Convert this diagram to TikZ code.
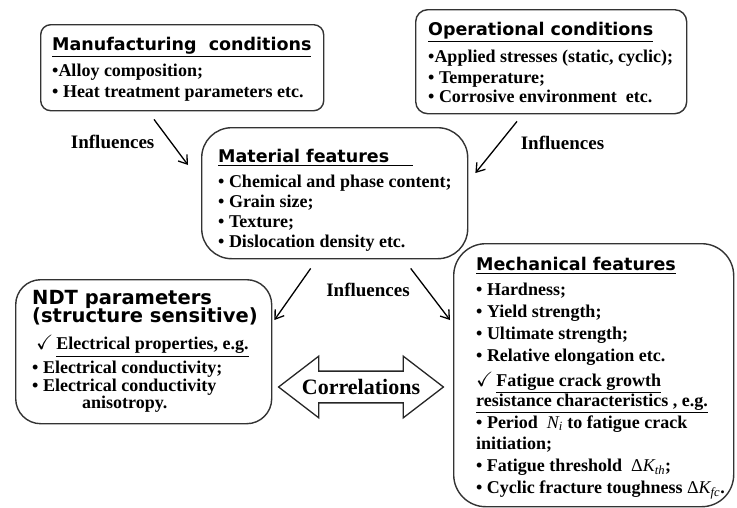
\documentclass[tikz,border=0pt]{standalone}
\usepackage{amssymb}
\usepackage{fontspec}
\setmainfont{Liberation Serif}
\newfontfamily\headfont{DejaVu Sans}
\usetikzlibrary{arrows.meta,shapes.arrows,positioning}

\newcommand{\headtext}[2][17.5]{{\headfont\bfseries\fontsize{#1}{18}\selectfont #2}}
\newcommand{\headline}[1]{\underline{\headtext{#1}}}
\newcommand{\tick}{\scalebox{1.15}{$\checkmark$}}

\begin{document}
\begin{tikzpicture}[x=1pt,y=-1pt,
    frame/.style={draw=black!80,line width=1.4pt,anchor=north west,inner sep=0pt},
    txt/.style={align=left,inner sep=0pt,font=\bfseries\fontsize{18}{21}\selectfont},
    infl/.style={-{Straight Barb[length=8pt,width=11pt]},line width=1.3pt},
    lbl/.style={inner sep=0pt,font=\bfseries\fontsize{19}{19}\selectfont}]
  \useasboundingbox (0,0) rectangle (737,507);

  \node[frame,rounded corners=10pt,minimum width=283pt,minimum height=86pt] (mfg) at (40,24) {};
  \node[txt,below right=12.8pt and 12pt of mfg.north west] (mfgtext) {%
    \headline{Manufacturing\ \ conditions}\\[5pt]
    \textbullet Alloy composition;\\
    \textbullet\ Heat treatment parameters etc.};

  \node[frame,rounded corners=12pt,minimum width=271pt,minimum height=104pt] (oper) at (415,9) {};
  \node[txt,below right=12.8pt and 13pt of oper.north west] (opertext) {%
    \headline{Operational conditions}\\[6pt]
    \textbullet Applied stresses (static, cyclic);\\
    \textbullet\ Temperature;\\[-2pt]
    \textbullet\ Corrosive environment\ \ etc.};

  \node[frame,rounded corners=30pt,minimum width=266pt,minimum height=131pt] (mat) at (201,127) {};
  \node[txt,font=\bfseries\fontsize{18}{20}\selectfont,below right=21.8pt and 17pt of mat.north west] (mattext) {%
    \headline{Material features\hspace{24pt}}\\[5pt]
    \textbullet\ Chemical and phase content;\\
    \textbullet\ Grain size;\\
    \textbullet\ Texture;\\
    \textbullet\ Dislocation density etc.};

  \node[frame,rounded corners=25pt,minimum width=256pt,minimum height=144pt] (ndt) at (15,279) {};
  \node[txt,below right=11pt and 17pt of ndt.north west] (ndttext) {%
    \headtext[19.5]{NDT parameters}\\[-3pt]
    \headtext[19.5]{(structure sensitive)}\\[6pt]
    \hspace*{4pt}\tick\,\underline{Electrical properties, e.g.}\\[3pt]
    \textbullet\ Electrical conductivity;\\[-3pt]
    \textbullet\ Electrical conductivity\\[-4pt]
    \hspace*{50pt}anisotropy.};

  \node[frame,rounded corners=32pt,minimum width=280pt,minimum height=263pt] (mech) at (453,243) {};
  \node[txt,font=\bfseries\fontsize{18}{22}\selectfont,below right=13.8pt and 23pt of mech.north west] (mechtext) {%
    \headline{Mechanical features}\\[3pt]
    \textbullet\ Hardness;\\
    \textbullet\ Yield strength;\\
    \textbullet\ Ultimate strength;\\
    \textbullet\ Relative elongation etc.\\[3pt]
    \tick\,\underline{Fatigue crack growth}\\[-2pt]
    \underline{resistance characteristics , e.g.}\\
    \textbullet\ Period\ \ {\mdseries\itshape N\textsubscript{i}} to fatigue crack\\[-1pt]
    initiation;\\
    \textbullet\ Fatigue threshold\ \ {\mdseries Δ\itshape K\textsubscript{th}};\\
    \textbullet\ Cyclic fracture toughness {\mdseries Δ\itshape K\textsubscript{fc}}.};

  \node[double arrow,draw=black!85,line width=1.3pt,double arrow head extend=15pt,
    double arrow tip angle=75,minimum height=160pt,inner xsep=2pt,inner ysep=7.5pt,
    font=\bfseries\fontsize{22}{22}\selectfont] (corr) at (361,387) {Correlations};

  \draw[infl] ([xshift=114pt,yshift=-8pt]mfg.south west)
    -- node[lbl,left=16pt] (infl1) {Influences} ([xshift=-13pt,yshift=-38pt]mat.north west);
  \draw[infl] ([xshift=102pt,yshift=-7pt]oper.south west)
    -- node[lbl,right=24pt,yshift=4pt] (infl2) {Influences} ([xshift=7pt,yshift=-46pt]mat.north east);
  \draw[infl] ([xshift=-24pt,yshift=-9pt]mat.south) -- ([xshift=2pt,yshift=-41pt]ndt.north east);
  \draw[infl] ([xshift=76pt,yshift=-9pt]mat.south)
    -- node[lbl,left=20pt,yshift=4pt] (infl3) {Influences} ([xshift=-3pt,yshift=-77pt]mech.north west);
\end{tikzpicture}
\end{document}
